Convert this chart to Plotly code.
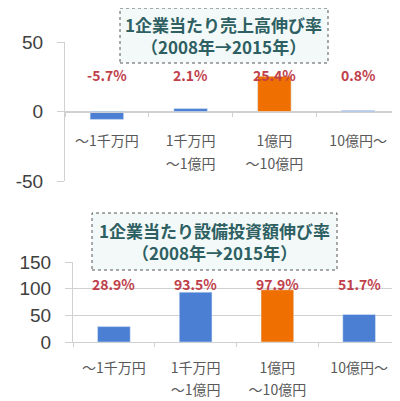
#!/usr/bin/env python3
"""Growth per company by sales size: sales and capex, 2008 -> 2015."""
import plotly.graph_objects as go

CATEGORIES = ["～1千万円", "1千万円～1億円", "1億円～10億円", "10億円～"]
LABEL_LINE1 = ["～1千万円", "1千万円", "1億円", "10億円～"]
LABEL_LINE2 = ["", "～1億円", "～10億円", ""]
SALES_GROWTH = [-5.7, 2.1, 25.4, 0.8]
CAPEX_GROWTH = [28.9, 93.5, 97.9, 51.7]
HIGHLIGHT = 2  # index of the orange bar

SALES_TICKS = [-50, 0, 50]
CAPEX_TICKS = [0, 50, 100, 150]

SALES_TITLE = "1企業当たり売上高伸び率<br>（2008年→2015年）"
CAPEX_TITLE = "1企業当たり設備投資額伸び率<br>（2008年→2015年）"

# the page body has an 8px margin, so the figure is shrunk to fit the window
OFF = 8
W, H = 400 - OFF, 401 - OFF
BLUE = "#4a7fd3"
ORANGE = "#ef7000"
RED = "#c0404a"
GRID = "#d0d0d0"
JP = "Noto Sans CJK JP"


def py(px):
    """screen pixel row -> paper y"""
    return 1 - (px - OFF) / H


def px_x(px):
    """screen pixel column -> paper x"""
    return (px - OFF) / W


TOP_DOM = [py(181), py(42)]
BOT_DOM = [py(342), py(262)]
CAT_RANGE = [-0.5, len(CATEGORIES) - 0.5]

fig = go.Figure()

colors = [ORANGE if i == HIGHLIGHT else BLUE for i in range(len(CATEGORIES))]

fig.add_trace(go.Bar(x=CATEGORIES, y=SALES_GROWTH, marker_color=colors,
                     width=0.4, xaxis="x", yaxis="y", showlegend=False))
fig.add_trace(go.Bar(x=CATEGORIES, y=CAPEX_GROWTH, marker_color=colors,
                     width=0.4, xaxis="x2", yaxis="y2", showlegend=False))

# value labels sit on a fixed row above the bars
for cat, v in zip(CATEGORIES, SALES_GROWTH):
    fig.add_annotation(x=cat, y=26, xref="x", yref="y", text=f"{v}%",
                       showarrow=False,
                       font=dict(family=JP, size=14, color=RED, weight="bold"))
for cat, v in zip(CATEGORIES, CAPEX_GROWTH):
    fig.add_annotation(x=cat, y=108, xref="x2", yref="y2", text=f"{v}%",
                       showarrow=False,
                       font=dict(family=JP, size=14, color=RED, weight="bold"))

# dotted title boxes
for (x0, x1, y0, y1), text in [((120, 328, 63, 8), SALES_TITLE),
                               ((92, 337, 270, 213), CAPEX_TITLE)]:
    fig.add_shape(type="rect", xref="paper", yref="paper",
                  x0=px_x(x0), x1=px_x(x1), y0=py(y0), y1=py(y1),
                  fillcolor="#f2f9f8", line=dict(color="#555555", width=1, dash="dot"))
    fig.add_annotation(x=px_x((x0 + x1) / 2), y=py((y0 + y1) / 2),
                       xref="paper", yref="paper", text=text, showarrow=False,
                       xanchor="center", yanchor="middle", align="center",
                       font=dict(family=JP, size=17, color="#2e5f63", weight="bold"))

xaxis_style = dict(
    type="category", categoryorder="array", categoryarray=CATEGORIES,
    range=CAT_RANGE, showgrid=False, showline=True, linecolor=GRID,
    ticks="outside", tickson="boundaries", ticklen=4, tickcolor=GRID,
    tickfont=dict(family=JP, size=14, color="#595959"),
    tickvals=CATEGORIES, ticktext=LABEL_LINE1,
    fixedrange=True, automargin=False,
)
# second line of the category labels, drawn by an overlaid axis
xaxis_line2 = dict(
    type="category", categoryorder="array", categoryarray=CATEGORIES,
    range=CAT_RANGE, showgrid=False, showline=False, ticks="",
    tickfont=dict(family=JP, size=14, color="#595959"),
    tickvals=CATEGORIES, ticktext=LABEL_LINE2, showticklabels=True,
    fixedrange=True, automargin=False,
)
yaxis_style = dict(
    showgrid=True, gridcolor=GRID, showline=True, linecolor=GRID,
    zeroline=False, ticks="outside", ticklen=7, tickcolor=GRID,
    tickfont=dict(family="Liberation Sans", size=19, color="#404040"),
    ticklabelstandoff=10, fixedrange=True, automargin=False,
)

zero_pos = (TOP_DOM[0] + TOP_DOM[1]) / 2
top_x = [px_x(65), 1]
bot_x = [px_x(73), 1]

fig.update_layout(
    width=W, height=H,
    margin=dict(l=0, r=0, t=0, b=0),
    paper_bgcolor="white", plot_bgcolor="white",
    xaxis=dict(xaxis_style, domain=top_x, anchor="free", position=zero_pos,
               ticklabelstandoff=17),
    yaxis=dict(yaxis_style, domain=TOP_DOM, range=[-50, 50],
               tickvals=SALES_TICKS, ticktext=[str(t) for t in SALES_TICKS],
               anchor="x"),
    xaxis2=dict(xaxis_style, domain=bot_x, anchor="y2", ticklabelstandoff=13),
    yaxis2=dict(yaxis_style, domain=BOT_DOM, range=[0, 150],
                tickvals=CAPEX_TICKS, ticktext=[str(t) for t in CAPEX_TICKS],
                anchor="x2"),
    xaxis3=dict(xaxis_line2, domain=top_x, overlaying="x", anchor="free",
                position=zero_pos, side="bottom", ticklabelstandoff=42),
    xaxis4=dict(xaxis_line2, domain=bot_x, overlaying="x2", anchor="y2",
                side="bottom", ticklabelstandoff=38),
)

# invisible carriers so the overlaid label axes get drawn
fig.add_trace(go.Scatter(x=CATEGORIES, y=SALES_GROWTH, xaxis="x3", yaxis="y",
                         mode="none", showlegend=False, hoverinfo="skip"))
fig.add_trace(go.Scatter(x=CATEGORIES, y=CAPEX_GROWTH, xaxis="x4", yaxis="y2",
                         mode="none", showlegend=False, hoverinfo="skip"))

fig.write_html("out.html")
